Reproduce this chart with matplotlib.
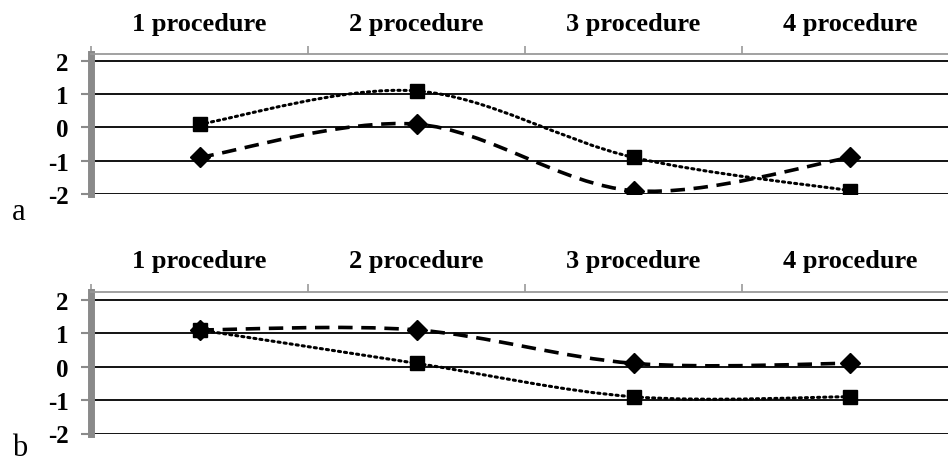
import matplotlib
matplotlib.use("Agg")
import matplotlib.pyplot as plt
from matplotlib.path import Path
from matplotlib.patches import PathPatch
import numpy as np

categories = ["1 procedure", "2 procedure", "3 procedure", "4 procedure"]
yticks = [-2, -1, 0, 1, 2]

a_squares = [0.1, 1.1, -0.9, -1.9]
a_diamonds = [-0.9, 0.1, -1.9, -0.9]
b_diamonds = [1.1, 1.1, 0.1, 0.1]
b_squares = [1.1, 0.1, -0.9, -0.9]

W, H = 948, 464
fig = plt.figure(figsize=(W / 100, H / 100), dpi=100)

SERIF = ["Liberation Serif", "DejaVu Serif"]


def smooth_path(xs, ys):
    pts = np.column_stack([xs, ys]).astype(float)
    n = len(pts)
    verts = [pts[0]]
    codes = [Path.MOVETO]
    for i in range(n - 1):
        p0 = pts[i - 1] if i > 0 else pts[i]
        p1 = pts[i]
        p2 = pts[i + 1]
        p3 = pts[i + 2] if i + 2 < n else pts[i + 1]
        c1 = p1 + (p2 - p0) / 6.0
        c2 = p2 - (p3 - p1) / 6.0
        verts += [c1, c2, p2]
        codes += [Path.CURVE4] * 3
    return Path(verts, codes)


def panel(top_px, bottom_px, ytop, series, label, label_y):
    left_px = 91
    right_px = 91 + 4 * 217
    ax = fig.add_axes([left_px / W, 1 - bottom_px / H,
                       (right_px - left_px) / W, (bottom_px - top_px) / H])
    ax.set_xlim(-0.5, 3.5)
    ax.set_ylim(-2, ytop)
    x = np.arange(len(categories))

    for y in yticks:
        ax.axhline(y, color="black", lw=1.3, zorder=1)

    for vals, kind in series:
        path = smooth_path(x, vals)
        if kind == "s":
            patch = PathPatch(path, fill=False, edgecolor="black", lw=2.2,
                              linestyle=(0, (0.7, 1.3)), capstyle="round", zorder=3)
        else:
            patch = PathPatch(path, fill=False, edgecolor="black", lw=2.6,
                              linestyle=(0, (4.0, 2.4)), capstyle="butt", zorder=3)
        ax.add_patch(patch)
    for vals, kind in series:
        if kind == "s":
            ax.plot(x, vals, ls="none", marker="s", ms=10, color="black", zorder=4)
        else:
            ax.plot(x, vals, ls="none", marker="D", ms=10, color="black", zorder=5)

    for s in ["right", "bottom"]:
        ax.spines[s].set_visible(False)
    ax.spines["left"].set_color("#8a8a8a")
    ax.spines["left"].set_linewidth(5)
    ax.spines["top"].set_color("#9a9a9a")
    ax.spines["top"].set_linewidth(1.3)

    ax.set_yticks(yticks)
    ax.set_yticklabels([str(v) for v in yticks], fontfamily=SERIF,
                       fontweight="bold", fontsize=18)
    ax.tick_params(axis="y", direction="out", length=7, width=1.5,
                   color="#8a8a8a", pad=9)

    ax.xaxis.tick_top()
    ax.set_xticks(x)
    ax.set_xticklabels(categories, fontfamily=SERIF, fontweight="bold",
                       fontsize=19)
    ax.set_xticks([-0.5, 0.5, 1.5, 2.5], minor=True)
    ax.tick_params(axis="x", which="major", length=0, pad=14)
    ax.tick_params(axis="x", which="minor", direction="out", length=6,
                   width=1.2, color="#9a9a9a", top=True, bottom=False)

    fig.text(12 / W, 1 - label_y / H, label, fontfamily=SERIF, fontsize=22,
             ha="left", va="center")
    return ax


panel(55, 195, 2.21, [(a_squares, "s"), (a_diamonds, "D")], "a", 213)
panel(292.5, 434.5, 2.25, [(b_squares, "s"), (b_diamonds, "D")], "b", 449)

fig.savefig("out.png", dpi=100)
